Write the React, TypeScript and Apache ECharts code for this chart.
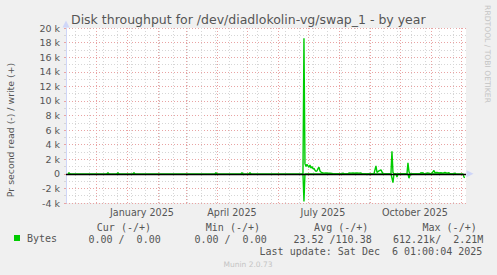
import React, { useEffect, useRef } from 'react';
import * as echarts from 'echarts';

const START = '2024-11-01 01:00';
const END = '2025-12-06 01:00';

const monthStarts = [
  '2024-12-01', '2025-01-01', '2025-02-01', '2025-03-01', '2025-04-01', '2025-05-01',
  '2025-06-01', '2025-07-01', '2025-08-01', '2025-09-01', '2025-10-01', '2025-11-01', '2025-12-01',
];
const minorGridDates = [
  '2024-11-10', '2024-11-24', '2024-12-08', '2024-12-22', '2025-01-05', '2025-01-19',
  '2025-02-02', '2025-02-16', '2025-03-02', '2025-03-16', '2025-03-30', '2025-04-13',
  '2025-04-27', '2025-05-11', '2025-05-25', '2025-06-08', '2025-06-22', '2025-07-06',
  '2025-07-20', '2025-08-03', '2025-08-17', '2025-08-31', '2025-09-14', '2025-09-28',
  '2025-10-12', '2025-10-26', '2025-11-09', '2025-11-23',
];
const xLabelDates = ['2025-01-16', '2025-04-16', '2025-07-16', '2025-10-16'];
const xLabelTexts = ['January 2025', 'April 2025', 'July 2025', 'October 2025'];

// write (+) bytes per second
const writeDates = [
  '2024-11-03', '2024-11-04', '2024-11-05',
  '2024-12-12', '2024-12-13', '2024-12-14',
  '2024-12-22', '2024-12-23', '2024-12-24',
  '2025-01-07', '2025-01-08', '2025-01-09',
  '2025-03-30', '2025-03-31', '2025-04-01',
  '2025-04-25', '2025-04-26', '2025-04-27',
  '2025-05-03', '2025-05-04', '2025-05-05',
  '2025-06-26', '2025-06-27', '2025-06-28', '2025-06-29', '2025-06-30', '2025-07-01',
  '2025-07-02', '2025-07-03', '2025-07-04', '2025-07-05', '2025-07-06', '2025-07-07',
  '2025-07-08', '2025-07-09', '2025-07-10', '2025-07-11', '2025-07-12', '2025-07-13',
  '2025-07-14', '2025-07-15', '2025-07-17', '2025-07-19', '2025-07-21', '2025-07-23',
  '2025-07-25', '2025-07-26',
  '2025-08-04', '2025-08-05', '2025-08-06', '2025-08-10', '2025-08-11', '2025-08-13',
  '2025-08-15', '2025-08-17', '2025-08-19', '2025-08-21', '2025-08-23', '2025-08-24',
  '2025-09-05', '2025-09-07', '2025-09-08', '2025-09-10', '2025-09-12', '2025-09-14',
  '2025-09-22', '2025-09-23', '2025-09-24', '2025-09-25',
  '2025-10-08', '2025-10-09', '2025-10-10', '2025-10-11',
  '2025-10-21', '2025-10-22', '2025-10-23', '2025-10-24', '2025-10-25',
  '2025-10-27', '2025-10-28', '2025-10-30', '2025-10-31',
  '2025-11-02', '2025-11-04', '2025-11-05', '2025-11-07', '2025-11-09', '2025-11-11',
  '2025-11-13', '2025-11-15', '2025-11-17', '2025-11-19', '2025-11-20',
  '2025-11-24', '2025-11-25', '2025-11-26',
];
const writeValues = [
  0, 150, 0,
  0, 150, 0,
  0, 150, 0,
  0, 150, 0,
  0, 150, 0,
  0, 150, 0,
  0, 150, 0,
  0, 18600, 1400, 1000, 1300, 1100,
  900, 1200, 800, 1000, 700, 750,
  500, 350, 400, 700, 900, 400,
  250, 150, 100, 120, 80, 100,
  60, 0,
  0, 100, 0, 0, 120, 100,
  120, 80, 120, 100, 120, 0,
  0, 1100, 200, 400, 550, 0,
  0, 3100, 200, 0,
  0, 1500, 300, 0,
  0, 150, 100, 150, 0,
  0, 120, 100, 0,
  100, 450, 150, 200, 120, 150,
  100, 200, 100, 150, 0,
  0, 100, 0,
];

// read (-) bytes per second, drawn below zero
const readDates = [
  '2025-06-26', '2025-06-27', '2025-06-28',
  '2025-08-28', '2025-08-29', '2025-08-30',
  '2025-09-22', '2025-09-23', '2025-09-24', '2025-09-25', '2025-09-27', '2025-09-28', '2025-09-29',
  '2025-10-09', '2025-10-10', '2025-10-11', '2025-10-12',
  '2025-12-03', '2025-12-04', '2025-12-05',
];
const readValues = [
  0, 3800, 0,
  0, 100, 0,
  0, 600, 1200, 0, 0, 450, 0,
  0, 600, 200, 0,
  0, 450, 500,
];

const legendHeaders = ['Cur (-/+)', 'Min (-/+)', 'Avg (-/+)', 'Max (-/+)'];
const legendValues = ['0.00 /  0.00', '0.00 /  0.00', '23.52 /110.38', '612.21k/  2.21M'];
const lastUpdate = 'Last update: Sat Dec  6 01:00:04 2025';

function ts(s: string): number {
  const [d, t = '00:00'] = s.split(' ');
  const [y, m, dd] = d.split('-').map(Number);
  const [hh, mm] = t.split(':').map(Number);
  return new Date(y, m - 1, dd, hh, mm).getTime();
}

const FONT = 'DejaVu Sans';
const MONO = 'DejaVu Sans Mono';
const TEXT = '#555555';
const AXIS = '#CFD6F8';
const MAJOR = '#E9A3A3';
const MINOR = '#D6D6D6';

export default function App() {
  const ref = useRef<HTMLDivElement>(null);
  useEffect(() => {
    if (!ref.current) return;
    const chart = echarts.init(ref.current, undefined, { renderer: 'svg' });
    const minX = ts(START);
    const maxX = ts(END);
    const labelTs = xLabelDates.map(ts);
    const headerRight = [151, 260, 368.3, 476.7];
    const valueRight = [160.7, 266.7, 371.7, 483.3];
    const graphics: any[] = [];
    legendHeaders.forEach((h, i) => {
      graphics.push({
        type: 'text', x: headerRight[i], y: 227.5,
        style: { text: h, align: 'right', verticalAlign: 'middle', fontFamily: MONO, fontSize: 10, fill: TEXT },
      });
    });
    legendValues.forEach((v, i) => {
      graphics.push({
        type: 'text', x: valueRight[i], y: 239.5,
        style: { text: v, align: 'right', verticalAlign: 'middle', fontFamily: MONO, fontSize: 10, fill: TEXT },
      });
    });
    graphics.push({
      type: 'text', x: 482.3, y: 251.8,
      style: { text: lastUpdate, align: 'right', verticalAlign: 'middle', fontFamily: MONO, fontSize: 10, fill: TEXT },
    });
    graphics.push({
      type: 'text', x: 248, y: 264,
      style: { text: 'Munin 2.0.73', align: 'center', verticalAlign: 'middle', fontFamily: FONT, fontSize: 7.5, fill: '#C4C4C4' },
    });
    graphics.push({
      type: 'text', x: 487, y: 54, rotation: -Math.PI / 2,
      style: { text: 'RRDTOOL / TOBI OETIKER', align: 'center', verticalAlign: 'middle', fontFamily: FONT, fontSize: 7.6, fill: '#C4C4C4' },
    });
    graphics.push({
      type: 'text', x: 10.5, y: 130, rotation: Math.PI / 2,
      style: { text: 'Pr second read (-) / write (+)', align: 'center', verticalAlign: 'middle', fontFamily: FONT, fontSize: 9.4, fill: TEXT },
    });

    chart.setOption({
      animation: false,
      backgroundColor: '#F0F0F0',
      title: {
        text: 'Disk throughput for /dev/diadlokolin-vg/swap_1 - by year',
        left: 71, top: 13, padding: 0,
        textStyle: { fontFamily: FONT, fontSize: 12.5, fontWeight: 'normal', color: TEXT },
      },
      legend: {
        data: ['Bytes'], left: 14, top: 233, padding: 0, icon: 'rect', itemWidth: 6, itemHeight: 6,
        selectedMode: false,
        textStyle: { fontFamily: MONO, fontSize: 10, color: TEXT, padding: [0, 0, 0, 2] },
      },
      grid: { left: 66, right: 31, top: 28, bottom: 72, show: true, backgroundColor: '#FFFFFF', borderWidth: 0 },
      xAxis: [
        {
          type: 'value', min: minX, max: maxX, position: 'bottom',
          axisLine: { show: false },
          axisTick: { show: true, customValues: minorGridDates.map(ts), length: 2, lineStyle: { color: MINOR } },
          axisLabel: { show: false },
          splitLine: { show: true, lineStyle: { color: MINOR, type: [1, 2], width: 1 } },
        },
        {
          type: 'value', min: minX, max: maxX, position: 'bottom',
          axisLine: { show: true, lineStyle: { color: AXIS, width: 1 }, symbol: ['none', 'triangle'], symbolSize: [7, 7], symbolOffset: [0, 4] },
          axisTick: { show: true, customValues: monthStarts.map(ts), length: 2, lineStyle: { color: MAJOR } },
          axisLabel: {
            customValues: labelTs, margin: 4, fontFamily: FONT, fontSize: 9.6, color: TEXT,
            formatter: (v: number) => {
              const i = labelTs.findIndex((t) => Math.abs(t - v) < 86400000);
              return i >= 0 ? xLabelTexts[i] : '';
            },
          },
          splitLine: { show: true, lineStyle: { color: MAJOR, type: [1, 2], width: 1 } },
        },
      ],
      yAxis: [
        {
          type: 'value', min: -4000, max: 20000, interval: 1000, position: 'left',
          axisLine: { show: false },
          axisTick: { show: true, length: 2, lineStyle: { color: MINOR } },
          axisLabel: { show: false },
          splitLine: { show: true, lineStyle: { color: MINOR, type: [1, 2], width: 1 } },
        },
        {
          type: 'value', min: -4000, max: 20000, interval: 2000, position: 'left',
          axisLine: { show: true, lineStyle: { color: AXIS, width: 1 }, symbol: ['none', 'triangle'], symbolSize: [7, 7], symbolOffset: [0, 4] },
          axisTick: { show: true, length: 2, lineStyle: { color: MAJOR } },
          axisLabel: {
            margin: 6, fontFamily: FONT, fontSize: 9.5, color: TEXT,
            formatter: (v: number) => (v === 0 ? '0' : `${v / 1000} k`),
          },
          splitLine: { show: true, lineStyle: { color: MAJOR, type: [1, 2], width: 1 } },
        },
      ],
      series: [
        {
          name: 'Bytes', type: 'line', xAxisIndex: 1, yAxisIndex: 1, showSymbol: false,
          color: '#00CC00', lineStyle: { width: 1.4, color: '#00CC00' },
          data: writeDates.map((d, i) => [ts(d), writeValues[i]]),
        },
        {
          name: 'Bytes', type: 'line', xAxisIndex: 1, yAxisIndex: 1, showSymbol: false,
          color: '#00CC00', lineStyle: { width: 1.4, color: '#00CC00' },
          data: readDates.map((d, i) => [ts(d), -readValues[i]]),
          markLine: {
            silent: true, symbol: ['none', 'none'], label: { show: false }, z: 10,
            lineStyle: { color: '#000000', type: 'solid', width: 1.4 },
            data: [{ yAxis: 0 }],
          },
        },
      ],
      graphic: graphics,
    });
    return () => chart.dispose();
  }, []);
  return <div ref={ref} style={{ position: 'fixed', left: 0, top: 0, width: 497, height: 275 }} />;
}
